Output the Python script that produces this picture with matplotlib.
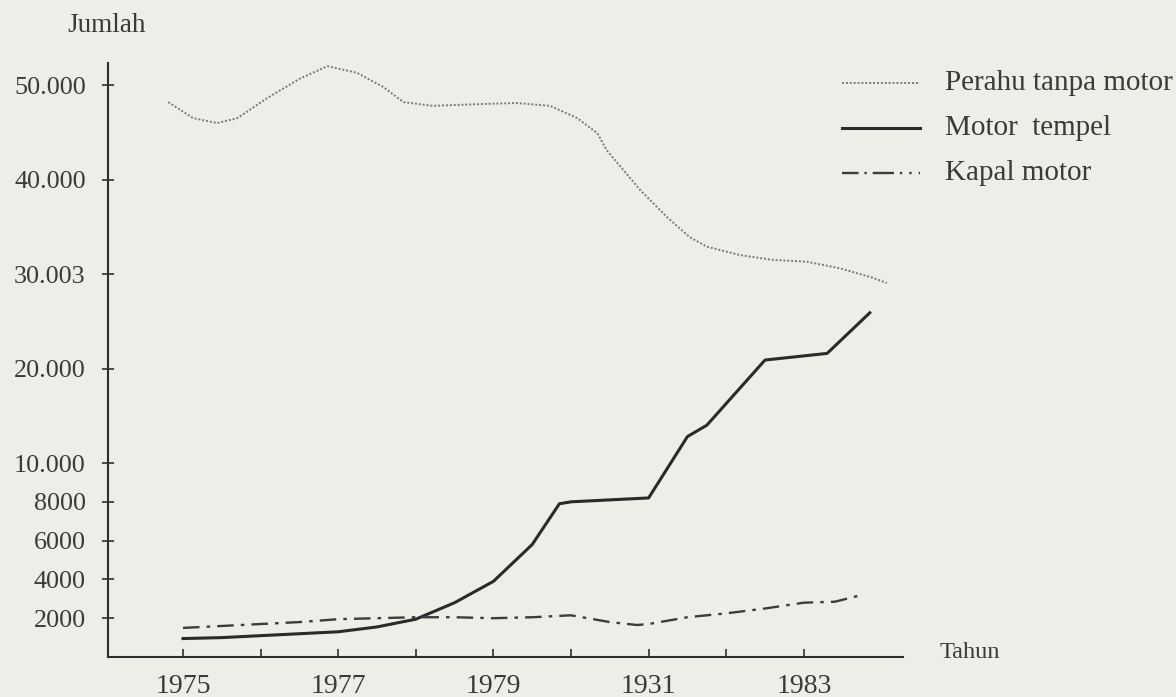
import matplotlib
matplotlib.use("Agg")
import matplotlib.pyplot as plt
import numpy as np
from matplotlib.lines import Line2D

# ---------------- data ----------------
years_perahu = [1974.81, 1975.13, 1975.44, 1975.70, 1976.08, 1976.51, 1976.86,
                1977.24, 1977.58, 1977.84, 1978.22, 1978.87, 1979.30, 1979.73,
                1980.08, 1980.34, 1980.46, 1980.89, 1981.24, 1981.53, 1981.75,
                1982.18, 1982.60, 1983.04, 1983.47, 1983.89, 1984.07]
perahu_tanpa_motor = [48200, 46500, 45980, 46500, 48600, 50700, 52000,
                      51300, 49800, 48200, 47800, 48000, 48100, 47800,
                      46500, 44900, 43100, 38900, 36000, 33900, 32900,
                      32000, 31500, 31300, 30600, 29600, 29050]

years_motor = [1975.0, 1975.5, 1976.0, 1976.5, 1977.0, 1977.5, 1978.0, 1978.5,
               1979.0, 1979.5, 1979.85, 1980.0, 1981.0, 1981.5, 1981.75,
               1982.5, 1983.3, 1983.85]
motor_tempel = [950, 1000, 1100, 1200, 1300, 1550, 1950, 2800,
                3900, 5800, 7900, 8000, 8200, 12800, 14000,
                20900, 21600, 25900]

years_kapal = [1975.0, 1975.5, 1976.0, 1976.5, 1977.0, 1977.5, 1978.0, 1978.5,
               1979.0, 1979.5, 1980.0, 1980.5, 1980.85, 1981.0, 1981.5,
               1982.0, 1982.5, 1983.0, 1983.4, 1983.75]
kapal_motor = [1500, 1600, 1700, 1800, 1950, 2000, 2050, 2050,
               2000, 2050, 2150, 1800, 1650, 1700, 2050,
               2250, 2500, 2800, 2850, 3200]

series_names = ["Perahu tanpa motor", "Motor  tempel", "Kapal motor"]

ytick_values = [2000, 4000, 6000, 8000, 10000, 20000, 30000, 40000, 50000]
ytick_labels = ["2000", "4000", "6000", "8000", "10.000", "20.000",
                "30.003", "40.000", "50.000"]
xtick_years = [1975, 1976, 1977, 1978, 1979, 1980, 1981, 1982, 1983]
xtick_labels = ["1975", "", "1977", "", "1979", "", "1931", "", "1983"]

# ---------------- style ----------------
BG = "#efede8"
INK = "#2e2e2e"
TXT = "#3a3a3a"
plt.rcParams["font.family"] = ["Liberation Serif", "DejaVu Serif"]

# broken (piecewise linear) value axis: 0-10000 stretched, above compressed
K = 94.5 / 194.0


def fwd(v):
    v = np.asarray(v, dtype=float)
    return np.where(v <= 10000, v, 10000 + (v - 10000) * K)


def inv(t):
    t = np.asarray(t, dtype=float)
    return np.where(t <= 10000, t, 10000 + (t - 10000) / K)


W, H = 1176, 697
fig = plt.figure(figsize=(W / 100, H / 100), dpi=100, facecolor=BG)
ax = fig.add_axes([108 / W, 40 / H, 795 / W, 594 / H])
ax.set_facecolor("none")
ax.set_yscale("function", functions=(fwd, inv))
ax.set_xlim(1974.033, 1984.278)
ax.set_ylim(0, 52335)

for s in ("top", "right"):
    ax.spines[s].set_visible(False)
for s in ("left", "bottom"):
    ax.spines[s].set_color(INK)
    ax.spines[s].set_linewidth(1.5)

ax.set_yticks(ytick_values)
ax.set_yticklabels(ytick_labels)
ax.set_xticks(xtick_years)
ax.set_xticklabels(xtick_labels)
ax.minorticks_off()
ax.tick_params(axis="y", direction="inout", length=8, width=1.2, color=INK,
               pad=12, labelsize=18.8, labelcolor=TXT)
ax.tick_params(axis="x", direction="in", length=6, width=1.2, color=INK,
               pad=12, labelsize=20, labelcolor=TXT)

# series
perahu_style = dict(color="#787878", lw=1.4, ls=(0, (1, 1)))
motor_style = dict(color="#2a2a2a", lw=2.2, ls="-")
kapal_style = dict(color="#3c3c3c", lw=1.7, ls=(0, (7, 3, 1.5, 3)))

ax.plot(years_perahu, perahu_tanpa_motor, **perahu_style)
ax.plot(years_motor, motor_tempel, **motor_style)
ax.plot(years_kapal, kapal_motor, **kapal_style)

# axis titles
fig.text(107 / W, 1 - 25 / H, "Jumlah", ha="center", va="center",
         fontsize=19.5, color=TXT)
fig.text(940 / W, 1 - 652 / H, "Tahun", ha="left", va="center",
         fontsize=17.5, color=TXT)

# legend (manual, like the printed key)
leg_rows = [83, 128, 173]
kapal_key = dict(color="#3c3c3c", lw=1.7,
                 ls=(0, (7, 2.5, 1, 2.5, 9, 2.5, 1, 3, 1, 3, 1, 3)))
styles = [perahu_style, motor_style, kapal_key]
for name, yrow, st in zip(series_names, leg_rows, styles):
    yf = 1 - yrow / H
    fig.add_artist(Line2D([842 / W, 920 / W], [yf, yf],
                          transform=fig.transFigure, **st))
    fig.text(945 / W, yf, name, ha="left", va="center", fontsize=21,
             color=TXT)

fig.savefig("out.png", dpi=100, facecolor=BG)
